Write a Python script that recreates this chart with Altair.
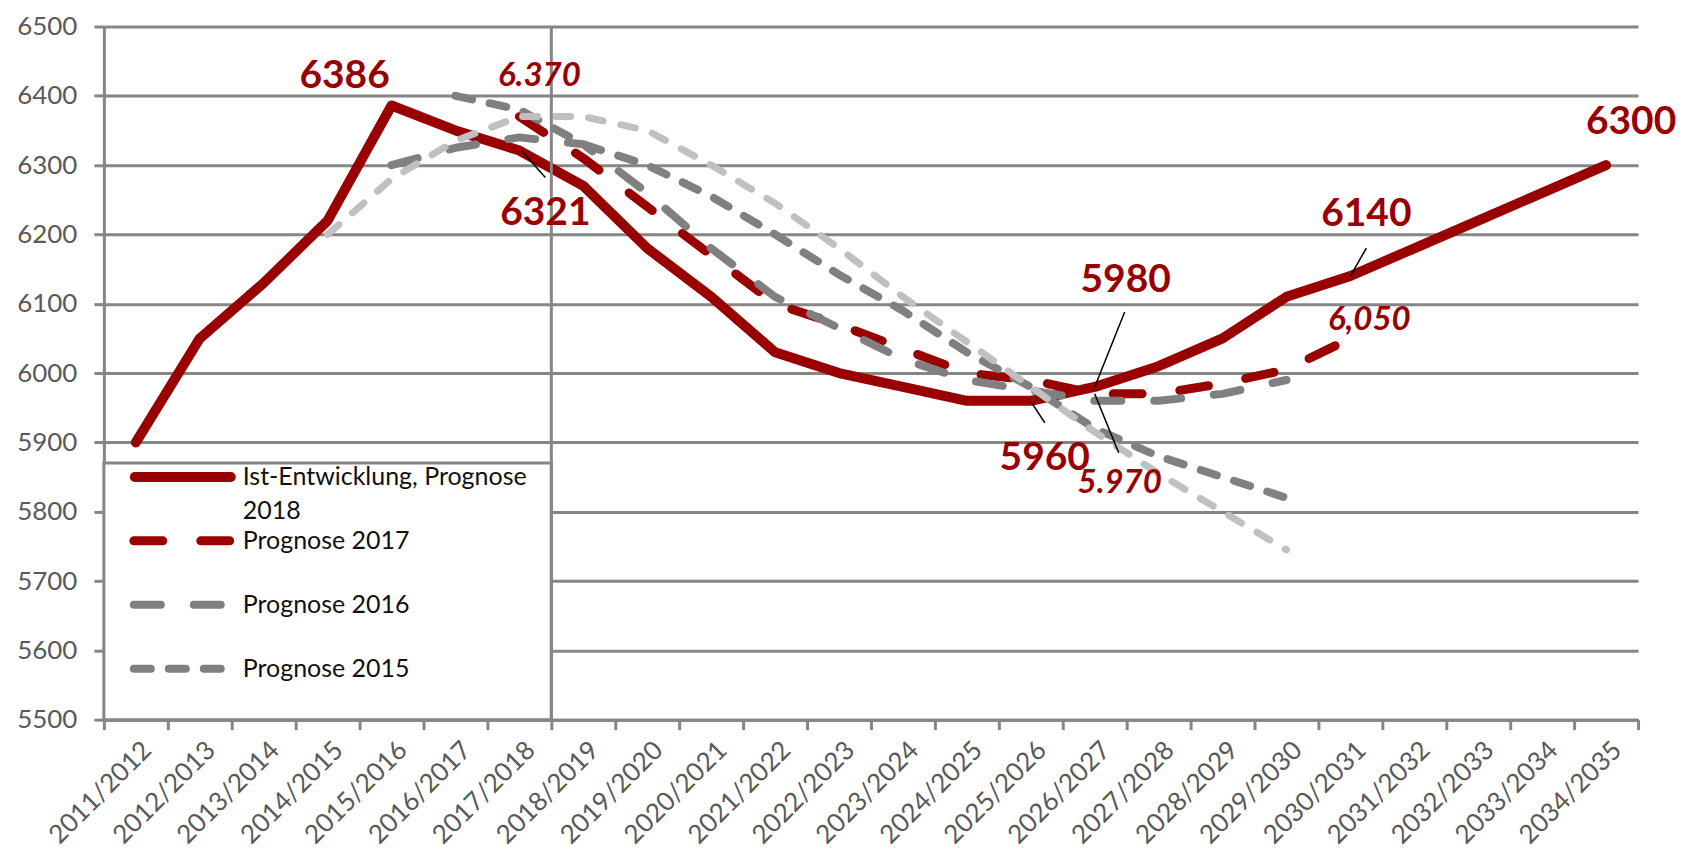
import altair as alt
import pandas as pd

# ---------------- data ----------------
years = ["2011/2012", "2012/2013", "2013/2014", "2014/2015", "2015/2016", "2016/2017",
         "2017/2018", "2018/2019", "2019/2020", "2020/2021", "2021/2022", "2022/2023",
         "2023/2024", "2024/2025", "2025/2026", "2026/2027", "2027/2028", "2028/2029",
         "2029/2030", "2030/2031", "2031/2032", "2032/2033", "2033/2034", "2034/2035"]

ist_2018 = [5900, 6050, 6130, 6220, 6386, 6350, 6321, 6270, 6180, 6110, 6030, 6000,
            5980, 5960, 5960, 5980, 6010, 6050, 6110, 6140, 6180, 6220, 6260, 6300]
prog_2017 = [None] * 6 + [6370, 6310, 6240, 6170, 6100, 6070, 6035, 6000, 5990, 5970,
                          5970, 5985, 6005, 6050] + [None] * 4
prog_2016 = [None] * 4 + [6300, 6325, 6340, 6330, 6260, 6180, 6110, 6065, 6020, 5990,
                          5975, 5960, 5960, 5970, 5990] + [None] * 5
prog_2015 = [None] * 5 + [6400, 6380, 6330, 6300, 6255, 6200, 6142, 6090, 6030, 5980,
                          5920, 5880, 5850, 5820] + [None] * 5
prog_older = [None] * 3 + [6200, 6280, 6335, 6370, 6370, 6350, 6300, 6245, 6180, 6110,
                           6045, 5980, 5915, 5855, 5800, 5745] + [None] * 5

y_ticks = [5500, 5600, 5700, 5800, 5900, 6000, 6100, 6200, 6300, 6400, 6500]

label_text = ["6386", "6.370", "6321", "5980", "5960", "5.970", "6140", "6,050", "6300"]
label_idx = [4, 6, 6, 15, 14, 15, 19, 19, 23]
label_val = [6386, 6370, 6321, 5980, 5960, 5970, 6140, 6050, 6300]

forecast_start = [7]  # boundary between 2017/2018 and 2018/2019

legend_names = ["Ist-Entwicklung, Prognose", "2018", "Prognose 2017", "Prognose 2016", "Prognose 2015"]

# ---------------- styles ----------------
RED = "#990000"
DGRAY = "#808080"
LGRAY = "#c0c0c0"
GRID = "#868686"
FONT = "Lato"

W, H = 1536, 694


def series_df(vals):
    rows = [{"x": i + 0.5, "v": v, "year": years[i]} for i, v in enumerate(vals) if v is not None]
    return pd.DataFrame(rows)


label_expr = "[" + ",".join("'%s'" % y for y in years) + "][datum.value] || ''"

xscale = alt.Scale(domain=[0, len(years)], nice=False, zero=False)
yscale = alt.Scale(domain=[y_ticks[0], y_ticks[-1]], nice=False, zero=False)

xaxis = alt.Axis(values=list(range(len(years) + 1)), labelExpr=label_expr, labelAngle=315,
                 labelAlign="right", labelBaseline="middle", labelOffset=43, labelPadding=16,
                 labelFont=FONT, labelFontSize=26, labelColor="#595959", labelOverlap=False,
                 labelFlush=False, labelBound=False, tickSize=10, tickWidth=3, tickColor=GRID,
                 domainColor=GRID, domainWidth=3, grid=False, title=None)
yaxis = alt.Axis(values=y_ticks, format="d", grid=True, gridColor=GRID, gridWidth=3, tickSize=10,
                 tickWidth=3, tickColor=GRID, domainColor=GRID, domainWidth=3,
                 labelFont=FONT, labelFontSize=26, labelColor="#595959", labelPadding=17,
                 labelFlush=False, title=None)

X = alt.X("x:Q", scale=xscale, axis=xaxis)
Y = alt.Y("v:Q", scale=yscale, axis=yaxis)


def line_layer(vals, color, width, dash=None):
    kw = dict(color=color, strokeWidth=width, strokeCap="round", strokeJoin="round")
    if dash:
        kw["strokeDash"] = dash
    return alt.Chart(series_df(vals)).mark_line(**kw).encode(x=X, y=Y)


layers = []
layers.append(line_layer(ist_2018, RED, 10))
layers.append(line_layer(prog_2017, RED, 9, [29, 38]))
layers.append(line_layer(prog_2016, DGRAY, 8, [27, 33]))
layers.append(line_layer(prog_2015, DGRAY, 8, [17, 18]))
layers.append(line_layer(prog_older, LGRAY, 7, [15, 18]))

# ---------------- legend box ----------------
one = pd.DataFrame({"k": [0]})
layers.append(alt.Chart(one).mark_rect(fill="white", stroke=GRID, strokeWidth=3).encode(
    x=alt.value(0), x2=alt.value(448), y=alt.value(437), y2=alt.value(H)))

# forecast start vertical line
layers.append(alt.Chart(pd.DataFrame({"x": forecast_start})).mark_rule(color=GRID, strokeWidth=3).encode(
    x=X, y=alt.value(0), y2=alt.value(H)))

# legend symbols
leg_sym = [
    (31, 127, 451, RED, 10, None),
    (30, 126, 515, RED, 9, [29, 38]),
    (30, 117, 579, DGRAY, 8, [27, 33]),
    (30, 117, 643, DGRAY, 8, [17, 18]),
]
for x1, x2, yy, col, sw, dash in leg_sym:
    kw = dict(color=col, strokeWidth=sw, strokeCap="round")
    if dash:
        kw["strokeDash"] = dash
    layers.append(alt.Chart(one).mark_rule(**kw).encode(
        x=alt.value(x1), x2=alt.value(x2), y=alt.value(yy)))

leg_text_y = [451, 485, 515, 579, 643]
for name, yy in zip(legend_names, leg_text_y):
    layers.append(alt.Chart(one).mark_text(text=name, align="left", baseline="middle",
                                           font=FONT, fontSize=25, color="#111111").encode(
        x=alt.value(139), y=alt.value(yy)))

# ---------------- data labels ----------------
lab_df = pd.DataFrame({"x": [i + 0.5 for i in label_idx], "v": label_val, "t": label_text})
lab_style = {
    "6386": (-47, -30, "normal", 39),
    "6.370": (20, -41, "italic", 33),
    "6321": (26, 63, "normal", 39),
    "5980": (31, -107, "normal", 39),
    "5960": (14, 57, "normal", 39),
    "5.970": (25, 89, "italic", 33),
    "6140": (16, -62, "normal", 39),
    "6,050": (19, -18, "italic", 33),
    "6300": (25, -43, "normal", 39),
}
leaders = {
    "6321": (2, 0, 26, 27),
    "5980": (0, 0, 30, -75),
    "5960": (1, 2, 14, 22),
    "5.970": (0, 0, 24, 59),
    "6140": (0, 0, 16, -28),
}
for t, (dx, dy, style, size) in lab_style.items():
    sub = lab_df[lab_df.t == t]
    layers.append(alt.Chart(sub).mark_text(dx=dx, dy=dy, font=FONT, fontWeight="bold",
                                           fontStyle=style, fontSize=size, color=RED,
                                           align="center", baseline="middle").encode(
        x=X, y=Y, text="t:N"))
for t, (ax, ay, bx, by) in leaders.items():
    sub = lab_df[lab_df.t == t]
    layers.append(alt.Chart(sub).mark_rule(color="black", strokeWidth=1.5, xOffset=ax, yOffset=ay,
                                           x2Offset=bx, y2Offset=by).encode(
        x=X, y=Y, x2="x:Q", y2="v:Q"))

chart = alt.layer(*layers).properties(
    width=W, height=H,
    autosize=alt.AutoSizeParams(type="none"),
    padding={"left": 96, "top": 18, "right": 40, "bottom": 134},
    background="white",
).configure_view(stroke=None)

chart.save("out.html", embed_options={"renderer": "svg", "actions": False})
